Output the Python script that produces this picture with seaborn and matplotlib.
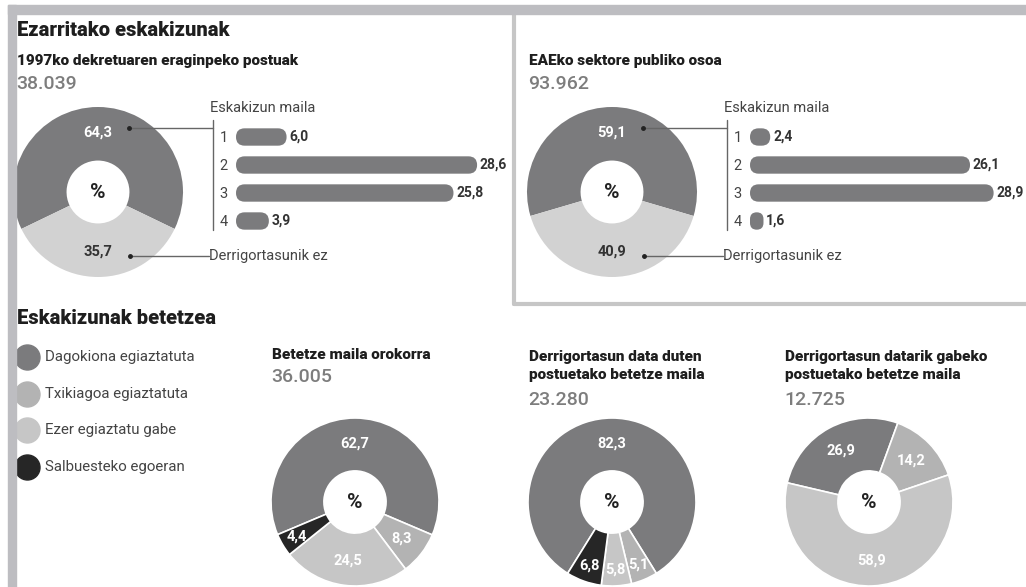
import seaborn as sns
import matplotlib.pyplot as plt
from matplotlib.patches import FancyBboxPatch, Rectangle
from matplotlib.lines import Line2D

# --- datuak ---
mailak = ["1", "2", "3", "4"]

dekretua_izenburua = "1997ko dekretuaren eraginpeko postuak"
dekretua_guztira = "38.039"
dekretua_donut = [64.3, 35.7]
dekretua_mailak = [6.0, 28.6, 25.8, 3.9]

eae_izenburua = "EAEko sektore publiko osoa"
eae_guztira = "93.962"
eae_donut = [59.1, 40.9]
eae_mailak = [2.4, 26.1, 28.9, 1.6]

kategoriak = ["Dagokiona egiaztatuta", "Txikiagoa egiaztatuta",
              "Ezer egiaztatu gabe", "Salbuesteko egoeran"]

betetze_izenburuak = ["Betetze maila orokorra",
                      "Derrigortasun data duten\npostuetako betetze maila",
                      "Derrigortasun datarik gabeko\npostuetako betetze maila"]
betetze_guztira = ["36.005", "23.280", "12.725"]
orokorra = [62.7, 8.3, 24.5, 4.4]
data_duten = [82.3, 5.1, 5.8, 6.8]
datarik_gabe = [26.9, 14.2, 58.9]

# --- koloreak ---
ILUN = "#7b7b7d"
ARGI = "#d2d2d2"
kat_koloreak = ["#7b7b7d", "#b3b3b3", "#c6c6c6", "#262626"]
MARKO = "#bdbdc1"

sns.set_style("white")
plt.rcParams['font.family'] = ['Roboto', 'DejaVu Sans']

W, H = 1026, 587
fig = plt.figure(figsize=(W / 100, H / 100), dpi=100)


def fx(x):
    return x / W


def fy(y):
    return 1 - y / H


def txt(x, y, s, **kw):
    kw.setdefault("va", "center")
    fig.text(fx(x), fy(y), s, **kw)


def zuzen(xs, ys, **kw):
    fig.add_artist(Line2D([fx(v) for v in xs], [fy(v) for v in ys], **kw))


def koma(v):
    return f"{v:.1f}".replace(".", ",")


def donut(cx, cy, R, balioak, koloreak, hasiera, testu_kol, ertza):
    R2 = R * 1.02
    ax = fig.add_axes([fx(cx - R2), fy(cy + R2), 2 * R2 / W, 2 * R2 / H])
    etiketak = iter([koma(v) for v in balioak])
    _, _, autotexts = ax.pie(balioak, colors=koloreak, startangle=hasiera,
                             counterclock=False, radius=1,
                             wedgeprops=dict(width=0.63, edgecolor="white", linewidth=ertza),
                             autopct=lambda p: next(etiketak), pctdistance=0.7,
                             textprops=dict(fontsize=10.5, fontweight="bold"))
    for t, c, v in zip(autotexts, testu_kol, balioak):
        t.set_color(c)
        if v < 7:
            # wedge txikien etiketak kanpoalderago
            x, y = t.get_position()
            t.set_position((x * 1.15, y * 1.15))
    ax.text(0, 0, "%", ha="center", va="center", fontsize=15, fontweight="bold", color="#222222")
    ax.set_xlim(-1.02, 1.02)
    ax.set_ylim(-1.02, 1.02)
    return ax


def barrak(x0, balioak):
    px_unit = 8.43
    ax = fig.add_axes([fx(x0), fy(235), 30 * px_unit / W, 112 / H])
    ax.patch.set_alpha(0)
    sns.barplot(x=balioak, y=mailak, orient="h", color=ILUN, saturation=1,
                width=0.62, ax=ax)
    ax.set_xlim(0, 30)
    ax.set_ylim(3.5, -0.5)
    ax.bar_label(ax.containers[0], labels=[koma(v) for v in balioak], padding=2,
                 fontsize=10, fontweight="bold", color="#333333")
    # barra biribilduak
    asp = px_unit / 28
    for p in list(ax.patches):
        x, y, w, h = p.get_x(), p.get_y(), p.get_width(), p.get_height()
        p.remove()
        r = min(w / 2, h / asp / 2)
        ax.add_patch(FancyBboxPatch((x, y), w, h, boxstyle=f"round,pad=0,rounding_size={r}",
                                    mutation_aspect=asp, fc=ILUN, ec="none"))
    ax.set_xlabel("")
    ax.set_ylabel("")
    ax.tick_params(axis="y", length=0, pad=6, labelsize=10.5, labelcolor="#444444")
    ax.tick_params(axis="x", bottom=False, labelbottom=False)
    sns.despine(ax=ax, left=True, bottom=True)
    return ax


# --- markoa ---
fig.add_artist(Rectangle((fx(8), fy(14)), fx(1026 - 8), 9 / H, color=MARKO, zorder=20))
fig.add_artist(Rectangle((fx(8), 0), 8 / W, fy(5), color=MARKO, zorder=20))
zuzen([514, 514], [14, 304], color="#c6c6c6", lw=3, zorder=19)
zuzen([514, 1026], [304, 304], color="#c6c6c6", lw=3, zorder=19)

# --- goiko zatia ---
txt(17, 31, "Ezarritako eskakizunak", fontsize=14.5, fontweight="heavy", color="#1e1e1e")
for x0, izen, guzt in [(17, dekretua_izenburua, dekretua_guztira),
                       (529, eae_izenburua, eae_guztira)]:
    txt(x0, 61, izen, fontsize=11, fontweight="heavy", color="#1e1e1e")
    txt(x0 - 1, 84, guzt, fontsize=14, fontweight="medium", color="#7d7d7d")

for cx, donut_bal, bar_bal, lx, bx in [(98, dekretua_donut, dekretua_mailak, 213, 236),
                                       (612, eae_donut, eae_mailak, 727, 750)]:
    donut(cx, 192, 85, donut_bal, [ILUN, ARGI], 90 + donut_bal[0] * 1.8,
          ["white", "#333333"], 0)
    barrak(bx, bar_bal)
    txt(lx - 3, 108, "Eskakizun maila", fontsize=10.5, color="#444444")
    zuzen([lx, lx], [120, 230], color="#666666", lw=1)
    zuzen([cx + 31, lx], [128, 128], color="#666666", lw=1)
    zuzen([cx + 31], [128], marker="o", ms=2.5, color="#222222", lw=0)
    zuzen([cx + 32, lx - 4], [256, 256], color="#666666", lw=1)
    zuzen([cx + 32], [256], marker="o", ms=2.5, color="#222222", lw=0)
    txt(lx - 4, 256, "Derrigortasunik ez", fontsize=10.5, color="#444444")

# --- beheko zatia ---
txt(17, 318, "Eskakizunak betetzea", fontsize=14.5, fontweight="heavy", color="#1e1e1e")
for i, (kat, kol) in enumerate(zip(kategoriak, kat_koloreak)):
    y = 357 + i * 36.7
    zuzen([27], [y], marker="o", ms=18, color=kol, lw=0)
    txt(45, y, kat, fontsize=10.8, color="#444444")

for x0, izen, guzt in zip([272, 529, 785], betetze_izenburuak, betetze_guztira):
    lerroak = izen.count("\n") + 1
    if lerroak == 1:
        txt(x0, 355, izen, fontsize=11, fontweight="heavy", color="#1e1e1e")
        txt(x0 - 1, 377, guzt, fontsize=14, fontweight="medium", color="#7d7d7d")
    else:
        txt(x0, 366, izen, fontsize=11, fontweight="heavy", color="#1e1e1e", linespacing=1.3)
        txt(x0 - 1, 400, guzt, fontsize=14, fontweight="medium", color="#7d7d7d")

donut(355, 502, 84, orokorra, kat_koloreak, 90 + orokorra[0] * 1.8,
      ["white"] * 4, 1.2)
donut(612, 502, 84, data_duten, kat_koloreak, 90 + data_duten[0] * 1.8,
      ["white"] * 4, 1.2)
donut(869, 502, 84, datarik_gabe, kat_koloreak[:3], 166.8,
      ["white"] * 3, 1.2)

fig.savefig("out.png", dpi=100)
